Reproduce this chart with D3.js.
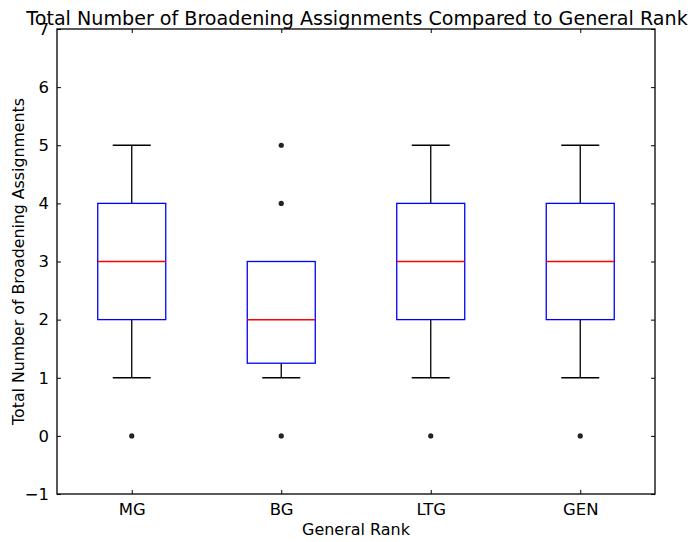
<!DOCTYPE html>
<html><head><meta charset="utf-8">
<script src="https://cdn.jsdelivr.net/npm/d3@7/dist/d3.min.js"></script>
<style>body{margin:0;background:#fff}svg{display:block}text{font-family:"DejaVu Sans",sans-serif}</style>
</head><body>
<script>
const categories = ["MG","BG","LTG","GEN"];
const whiskerLow = [1, 1, 1, 1];
const q1 = [2, 1.25, 2, 2];
const medians = [3, 2, 3, 3];
const q3 = [4, 3, 4, 4];
const whiskerHigh = [5, 3, 5, 5];
const outliers = [[0], [0, 4, 5], [0], [0]];
const yTicks = [-1,0,1,2,3,4,5,6,7];

const W = 691, H = 542;
const m = {l:57, r:36, t:29, b:48};
const svg = d3.select("body").append("svg").attr("width", W).attr("height", H);
const x = d3.scaleLinear().domain([0.5, 4.5]).range([m.l, W - m.r]);
const y = d3.scaleLinear().domain([-1, 7]).range([H - m.b, m.t]);
const pos = categories.map((c,i)=>i+1);
const bw = 68, cw = 38;

function fit(sel, target){
  const base = 16;
  sel.attr("font-size", base);
  const w = sel.node().getComputedTextLength();
  sel.attr("font-size", base * target / w);
  return base * target / w;
}

const g = svg.append("g");
categories.forEach((c,i)=>{
  const cx = x(pos[i]);
  const line = (x1,x2,y1,y2,col,sw)=>g.append("line").attr("x1",x1).attr("x2",x2).attr("y1",y1).attr("y2",y2).attr("stroke",col).attr("stroke-width",sw);
  if (whiskerHigh[i] > q3[i]) {
    line(cx,cx,y(q3[i]),y(whiskerHigh[i]),"#000",1.3);
    line(cx-cw/2,cx+cw/2,y(whiskerHigh[i]),y(whiskerHigh[i]),"#000",1.3);
  }
  if (whiskerLow[i] < q1[i]) {
    line(cx,cx,y(q1[i]),y(whiskerLow[i]),"#000",1.3);
    line(cx-cw/2,cx+cw/2,y(whiskerLow[i]),y(whiskerLow[i]),"#000",1.3);
  }
  g.append("rect").attr("x",cx-bw/2).attr("width",bw).attr("y",y(q3[i])).attr("height",y(q1[i])-y(q3[i]))
    .attr("fill","none").attr("stroke","#0000ff").attr("stroke-width",1.3);
  line(cx-bw/2,cx+bw/2,y(medians[i]),y(medians[i]),"#ff0000",1.5);
  outliers[i].forEach(v=>{
    g.append("circle").attr("cx",cx).attr("cy",y(v)).attr("r",2.6).attr("fill","#222");
  });
});

svg.append("rect").attr("x",m.l).attr("y",m.t).attr("width",W-m.r-m.l).attr("height",H-m.b-m.t)
  .attr("fill","none").attr("stroke","#000").attr("stroke-width",1.3);

const yAxisL = svg.append("g").attr("transform",`translate(${m.l},0)`)
  .call(d3.axisLeft(y).tickValues(yTicks).tickSizeInner(-4).tickSizeOuter(0).tickPadding(8).tickFormat(d=>d<0?"\u2212"+Math.abs(d):d));
const yAxisR = svg.append("g").attr("transform",`translate(${W-m.r},0)`)
  .call(d3.axisRight(y).tickValues(yTicks).tickSizeInner(-4).tickSizeOuter(0).tickFormat(""));
const xAxisB = svg.append("g").attr("transform",`translate(0,${H-m.b})`)
  .call(d3.axisBottom(x).tickValues(pos).tickSizeInner(-4).tickSizeOuter(0).tickPadding(9).tickFormat((d,i)=>categories[i]));
const xAxisT = svg.append("g").attr("transform",`translate(0,${m.t})`)
  .call(d3.axisTop(x).tickValues(pos).tickSizeInner(-4).tickSizeOuter(0).tickFormat(""));
const mgText = xAxisB.select(".tick text");
const tickSize = fit(mgText, 27);
[yAxisL,yAxisR,xAxisB,xAxisT].forEach(a=>{
  a.select(".domain").remove();
  a.selectAll("text").attr("font-family","DejaVu Sans").attr("font-size",tickSize).attr("fill","#000");
  a.selectAll("line").attr("stroke","#000");
});

const title = svg.append("text").attr("x",357).attr("y",25).attr("text-anchor","middle")
  .text("Total Number of Broadening Assignments Compared to General Rank");
fit(title, 662);
const xl = svg.append("text").attr("x",356).attr("y",535).attr("text-anchor","middle")
  .text("General Rank");
fit(xl, 108);
const yl = svg.append("text").attr("transform",`translate(24,261.5) rotate(-90)`).attr("text-anchor","middle")
  .text("Total Number of Broadening Assignments");
fit(yl, 327);
</script>
</body></html>
